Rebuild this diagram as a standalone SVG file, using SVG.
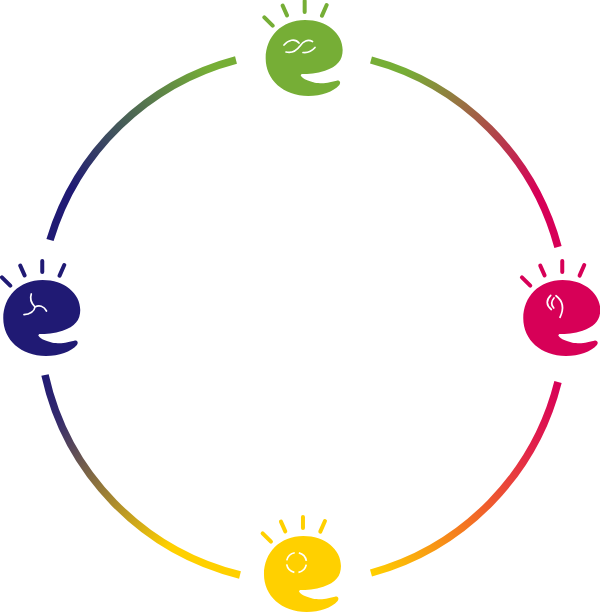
<svg xmlns="http://www.w3.org/2000/svg" width="600" height="612" viewBox="0 0 600 612">
<style>
.arc{fill:none;stroke-width:7.5}
.ray{fill:none;stroke-width:12;stroke-linecap:round}
.face{fill:none;stroke:#fff;stroke-width:1.7;stroke-linecap:round}
</style>
<defs>
<linearGradient id="g1" gradientUnits="userSpaceOnUse" x1="371" y1="60" x2="558" y2="247"><stop offset="0" stop-color="#76ae36"/><stop offset=".12" stop-color="#76ae36"/><stop offset=".8" stop-color="#d70057"/><stop offset="1" stop-color="#d70057"/></linearGradient>
<linearGradient id="g2" gradientUnits="userSpaceOnUse" x1="558" y1="382" x2="371" y2="573"><stop offset="0" stop-color="#d70057"/><stop offset=".25" stop-color="#e2234a"/><stop offset=".6" stop-color="#f36f24"/><stop offset="1" stop-color="#ffd000"/></linearGradient>
<linearGradient id="g3" gradientUnits="userSpaceOnUse" x1="45" y1="375" x2="240" y2="575"><stop offset="0" stop-color="#201a74"/><stop offset=".15" stop-color="#352b6c"/><stop offset=".75" stop-color="#ffd000"/><stop offset="1" stop-color="#ffd000"/></linearGradient>
<linearGradient id="g4" gradientUnits="userSpaceOnUse" x1="50" y1="240" x2="236" y2="60"><stop offset="0" stop-color="#201a74"/><stop offset=".2" stop-color="#201a74"/><stop offset=".9" stop-color="#76ae36"/><stop offset="1" stop-color="#76ae36"/></linearGradient>
<g id="head">
<path stroke="none" d="M155 222C175 222 200 220 225 212C262 200 278 180 278 150C278 100 230 60 165 60C95 60 47 110 47 175C47 240 100 288 175 288C215 288 250 275 268 255C274 247 268 240 260 242C230 250 205 252 190 247C170 242 155 235 152 226Z"/>
<path class="ray" d="M43 52L68 77M98 17L111 46M164 3V36M230 15L216 47"/>
</g>
</defs>
<g id="connectors">
<path class="arc" stroke="url(#g1)" d="M371 60A265 265 0 0 1 558 247"/>
<path class="arc" stroke="url(#g2)" d="M558 382A265 265 0 0 1 371 573"/>
<path class="arc" stroke="url(#g3)" d="M45 375A265 265 0 0 0 240 575"/>
<path class="arc" stroke="url(#g4)" d="M50 240A265 265 0 0 1 236 60"/>
</g>
<g id="node-green">
<use href="#head" transform="translate(250 0) scale(.3333)" fill="#76ae36" stroke="#76ae36"/>
<path class="face" d="M284 45C288 40 295 38 299 43M303 52.500C307 53 312 51 315 47.500M286 52C292 53.500 297 50 300 46C303 41 308 39 312.500 41.500"/>
</g>
<g id="node-blue">
<use href="#head" transform="translate(-12.400 260) scale(.3333)" fill="#201a74" stroke="#201a74"/>
<path class="face" d="M31.300 294C29.500 299 32 304 35 307C34.500 311 30 314.500 24 314.700M35 307C39 304.500 44 306 46.500 311"/>
</g>
<g id="node-red">
<use href="#head" transform="translate(507.600 260) scale(.3333)" fill="#d70057" stroke="#d70057"/>
<path class="face" d="M550.700 295.300C546 300 546 305 551.300 309.500M554 298C551 301.500 551 305 553.800 308M556 295.700C563 301 564 309 560 317.300"/>
</g>
<g id="node-yellow">
<use href="#head" transform="translate(248.300 516) scale(.3333)" fill="#ffd000" stroke="#ffd000"/>
<circle class="face" style="stroke-linecap:butt" cx="296.500" cy="562.600" r="10" stroke-dasharray="11.500 4.200" stroke-dashoffset="-2.100"/>
</g>
</svg>
